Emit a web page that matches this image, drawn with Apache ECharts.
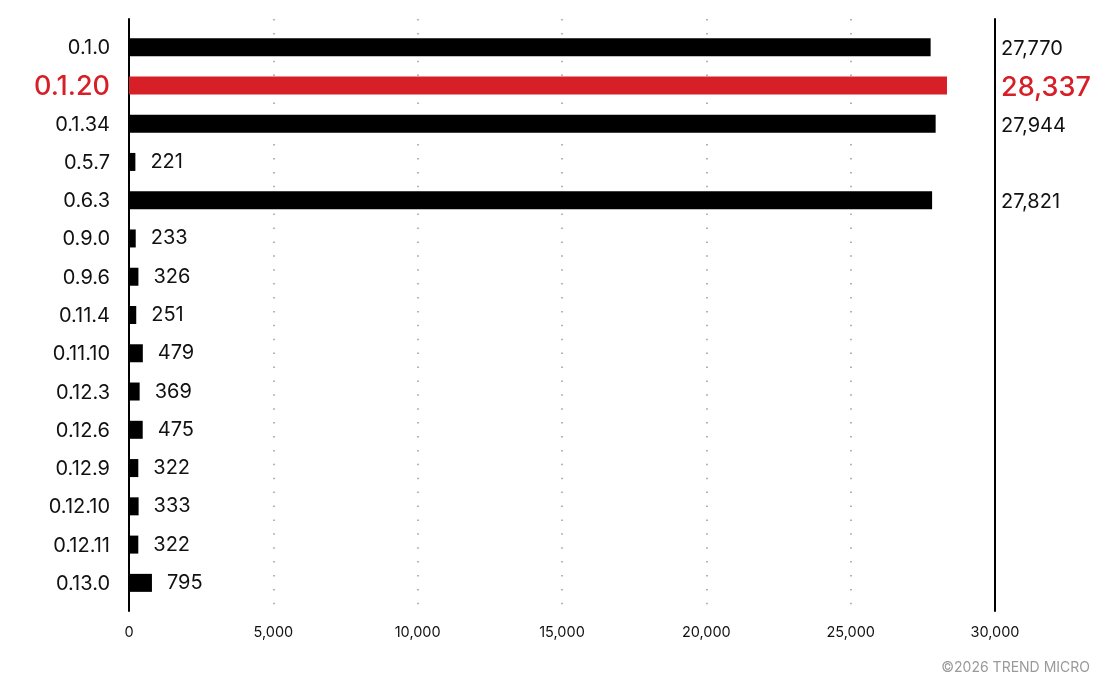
<!DOCTYPE html>
<html>
<head>
<meta charset="utf-8">
<script src="https://cdn.jsdelivr.net/npm/echarts@6/dist/echarts.min.js"></script>
<style>
html,body{margin:0;padding:0;background:#fff;}
#chart{width:1108px;height:693px;}
</style>
</head>
<body>
<div id="chart"></div>
<script>
const categories = ['0.1.0','0.1.20','0.1.34','0.5.7','0.6.3','0.9.0','0.9.6','0.11.4','0.11.10','0.12.3','0.12.6','0.12.9','0.12.10','0.12.11','0.13.0'];
const values = [27770,28337,27944,221,27821,233,326,251,479,369,475,322,333,322,795];
const highlighted = '0.1.20';
const xTicks = [0,5000,10000,15000,20000,25000,30000];
const bigThreshold = 10000;

const RED = '#d71f27';
const FONT = 'Inter, "Noto Sans", sans-serif';
const fmt = v => v.toLocaleString('en-US');

const chart = echarts.init(document.getElementById('chart'), null, {renderer:'canvas'});
chart.setOption({
  backgroundColor:'#fff',
  animation:false,
  textStyle:{fontFamily:FONT},
  grid:[
    {left:129, right:113, top:19, bottom:82},
    {left:129, right:113, top:28, bottom:91}
  ],
  xAxis:[
    {gridIndex:0, type:'value', min:xTicks[0], max:xTicks[xTicks.length-1], interval:5000,
     axisLine:{show:false}, axisTick:{show:false},
     axisLabel:{color:'#111', fontSize:14.5, margin:14, fontFamily:FONT, formatter:v=>fmt(v)},
     splitLine:{show:true, lineStyle:{color:'#9a9a9a', width:1.5, type:[1.5,12.4]}}},
    {gridIndex:1, type:'value', min:xTicks[0], max:xTicks[xTicks.length-1], show:false}
  ],
  yAxis:[
    {gridIndex:0, type:'category', data:categories, inverse:true, position:'left',
     axisLine:{show:true, lineStyle:{color:'#000', width:2}}, axisTick:{show:false},
     axisLabel:{show:false}, splitLine:{show:false}},
    {gridIndex:0, type:'category', data:categories, inverse:true, position:'right',
     axisLine:{show:true, lineStyle:{color:'#000', width:2}}, axisTick:{show:false},
     axisLabel:{show:false}, splitLine:{show:false}},
    {gridIndex:1, type:'category', data:categories, inverse:true, position:'left',
     axisLine:{show:false}, axisTick:{show:false},
     axisLabel:{margin:19, fontSize:20, color:'#111', fontFamily:FONT, padding:[2,0,0,0],
       formatter:(v)=> v===highlighted ? '{hl|'+v+'}' : v,
       rich:{hl:{fontSize:27, color:RED, fontFamily:FONT, fontWeight:500}}}},
    {gridIndex:1, type:'category', data:categories, inverse:true, position:'right',
     axisLine:{show:false}, axisTick:{show:false},
     axisLabel:{margin:6, fontSize:20, color:'#111', fontFamily:FONT, padding:[4,0,0,0],
       formatter:(v, i)=>{
         const val = values[i];
         if (val < bigThreshold) return '';
         return v===highlighted ? '{hl|'+fmt(val)+'}' : fmt(val);
       },
       rich:{hl:{fontSize:27, color:RED, fontFamily:FONT, fontWeight:500}}}}
  ],
  series:[{
    type:'bar', xAxisIndex:1, yAxisIndex:2, barWidth:18,
    data: values.map((v,i)=>({value:v, itemStyle:{color: categories[i]===highlighted ? RED : '#000'}})),
    label:{show:true, position:'right', distance:15, fontSize:20, color:'#111', fontFamily:FONT,
      padding:[3,0,0,0],
      formatter:p=> p.value < bigThreshold ? String(p.value) : ''}
  }],
  graphic:[{
    type:'text', right:18, top:661,
    style:{text:'©2026 TREND MICRO', fill:'#9a9a9a', font:'14px '+FONT}
  }]
});
</script>
</body>
</html>
